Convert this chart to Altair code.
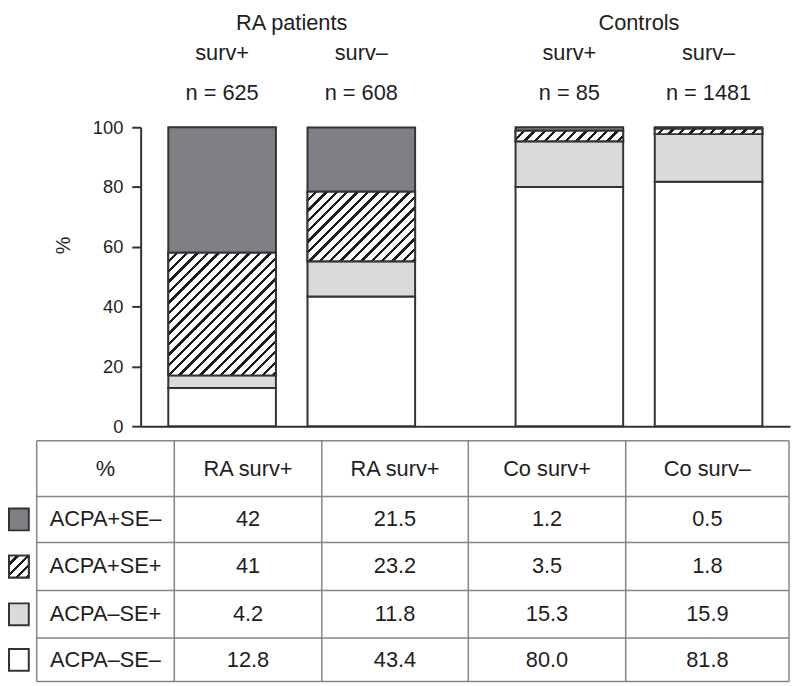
import altair as alt
import pandas as pd

# ---------------- data ----------------
GROUPS = ["RA patients", "Controls"]
SURV = ["surv+", "surv–"]
BAR_GROUP = ["RA patients", "RA patients", "Controls", "Controls"]
BAR_SURV = ["surv+", "surv–", "surv+", "surv–"]
BAR_N = ["n = 625", "n = 608", "n = 85", "n = 1481"]
# stacking order, bottom -> top
CATEGORIES = ["ACPA–SE–", "ACPA–SE+", "ACPA+SE+", "ACPA+SE–"]
ACPA_NEG_SE_NEG = [12.8, 43.4, 80.0, 81.8]
ACPA_NEG_SE_POS = [4.2, 11.8, 15.3, 15.9]
ACPA_POS_SE_POS = [41, 23.2, 3.5, 1.8]
ACPA_POS_SE_NEG = [42, 21.5, 1.2, 0.5]
TABLE_HEADERS = ["%", "RA surv+", "RA surv+", "Co surv+", "Co surv–"]
Y_TICKS = [0, 20, 40, 60, 80, 100]
Y_TITLE = "%"

VALUES = {
    CATEGORIES[0]: ACPA_NEG_SE_NEG,
    CATEGORIES[1]: ACPA_NEG_SE_POS,
    CATEGORIES[2]: ACPA_POS_SE_POS,
    CATEGORIES[3]: ACPA_POS_SE_NEG,
}
HATCHED = CATEGORIES[2]

# ---------------- style / layout ----------------
FONT = "Liberation Sans"
TXT = "#1e1e1e"
LINE = "#333333"
GRID = "#858585"
DARK = "#7f8084"
LIGHT = "#d9dadb"
FILLS = ["#ffffff", LIGHT, "#ffffff", DARK]
HATCH_COLOR = "#1a1a1a"
HATCH_PERIOD = 10.5
HATCH_INK = 0.32

OX, OY = 8, 8                      # page margin
W, H = 792, 678                    # whole drawing (autosize none, padding 0)
Y0_PX, Y100_PX = 427 - OY, 125 - OY
X_LEFT, X_RIGHT = 142 - OX, 798 - OX
PAD_INNER = 0.13
OFF_PAD_INNER, OFF_PAD_OUTER = 0.227, 0.1986
COL_EDGES = [e - OX for e in [37, 176, 325, 473, 632, 797]]
ROW_EDGES = [e - OY for e in [441.7, 498, 544.5, 593, 641, 685]]
SWATCH_X = (9 - OX, 29 - OX)
SWATCH_H = 22
HEAD_Y = [20 - OY, 50 - OY, 90 - OY]


def hatch(w, h):
    s = w * w + h * h
    x2 = w * (w + h) / s
    y2 = h * (w + h) / s
    n = (w + h) / HATCH_PERIOD
    stops = []
    k = 0
    while k < n:
        a = k / n
        b = min((k + 1 - HATCH_INK) / n, 1.0)
        c = min((k + 1) / n, 1.0)
        stops.append({"offset": round(a, 5), "color": "#ffffff"})
        stops.append({"offset": round(b, 5), "color": "#ffffff"})
        if b < 1.0:
            stops.append({"offset": round(b, 5), "color": HATCH_COLOR})
            stops.append({"offset": round(c, 5), "color": HATCH_COLOR})
        k += 1
    return {"gradient": "linear", "x1": 0, "y1": 0,
            "x2": round(x2, 5), "y2": round(y2, 5), "stops": stops}


# ---------------- tables ----------------
rows = []
for i in range(len(BAR_GROUP)):
    for k, cat in enumerate(CATEGORIES):
        rows.append(dict(group=BAR_GROUP[i], surv=BAR_SURV[i], bar=i,
                         cat=cat, order=k, value=VALUES[cat][i]))
bars_df = pd.DataFrame(rows)
heads_df = pd.DataFrame({"group": BAR_GROUP, "surv": BAR_SURV, "n": BAR_N})
groups_df = pd.DataFrame({"group": GROUPS})

x_scale = alt.Scale(domain=GROUPS, range=[X_LEFT, X_RIGHT],
                    paddingInner=PAD_INNER, paddingOuter=0)
xo_scale = alt.Scale(domain=SURV, paddingInner=OFF_PAD_INNER,
                     paddingOuter=OFF_PAD_OUTER)
y_scale = alt.Scale(domain=[0, 100], range=[Y0_PX, Y100_PX])
fill_scale = alt.Scale(domain=CATEGORIES, range=FILLS)

y_axis = alt.Axis(values=Y_TICKS, offset=-X_LEFT, title=Y_TITLE,
                  titleFont=FONT, titleFontSize=20, titleFontWeight="normal",
                  titleColor=TXT, titleAngle=270, titleBaseline="middle",
                  titleX=64 - 142, titleY=244 - OY,
                  labelFont=FONT, labelFontSize=18.5, labelColor=TXT,
                  labelPadding=9, tickSize=9, tickWidth=2, tickColor=LINE,
                  domainColor=LINE, domainWidth=2, grid=False)
x_axis = alt.Axis(labels=False, ticks=False, title=None, domainColor=LINE,
                  domainWidth=2, offset=-(H - Y0_PX), grid=False)

stacked = alt.Chart(bars_df).transform_stack(
    stack="value", groupby=["bar"], as_=["y0", "y1"],
    sort=[alt.SortField("order", order="ascending")])

bar_layer = stacked.mark_bar(stroke=LINE, strokeWidth=2).encode(
    x=alt.X("group:N", scale=x_scale, axis=x_axis),
    xOffset=alt.XOffset("surv:N", scale=xo_scale),
    y=alt.Y("y0:Q", scale=y_scale, axis=y_axis),
    y2="y1:Q",
    fill=alt.Fill("cat:N", scale=fill_scale, legend=None),
)

# bar geometry (for hatch spacing only)
step = (X_RIGHT - X_LEFT) / (2 - PAD_INNER)
bw = step * (1 - PAD_INNER)
step_o = bw / (2 - OFF_PAD_INNER + 2 * OFF_PAD_OUTER)
bar_w = step_o * (1 - OFF_PAD_INNER)
px_per_unit = (Y0_PX - Y100_PX) / 100.0

hatch_layers = []
for i in range(len(BAR_GROUP)):
    h = VALUES[HATCHED][i] * px_per_unit
    hatch_layers.append(
        stacked.transform_filter(
            (alt.datum.bar == i) & (alt.datum.cat == HATCHED)
        ).mark_bar(fill=hatch(bar_w, h), stroke=LINE, strokeWidth=2).encode(
            x=alt.X("group:N", scale=x_scale, axis=x_axis),
            xOffset=alt.XOffset("surv:N", scale=xo_scale),
            y=alt.Y("y0:Q", scale=y_scale, axis=y_axis),
            y2="y1:Q",
        )
    )

text_kw = dict(font=FONT, fontSize=22, color=TXT, baseline="middle", align="center")
head_groups = alt.Chart(groups_df).mark_text(**text_kw).encode(
    x=alt.X("group:N", scale=x_scale, axis=x_axis),
    y=alt.value(HEAD_Y[0]), text="group:N")
head_surv = alt.Chart(heads_df).mark_text(**text_kw).encode(
    x=alt.X("group:N", scale=x_scale, axis=x_axis),
    xOffset=alt.XOffset("surv:N", scale=xo_scale),
    y=alt.value(HEAD_Y[1]), text="surv:N")
head_n = alt.Chart(heads_df).mark_text(**text_kw).encode(
    x=alt.X("group:N", scale=x_scale, axis=x_axis),
    xOffset=alt.XOffset("surv:N", scale=xo_scale),
    y=alt.value(HEAD_Y[2]), text="n:N")

# ---------------- table below ----------------
lines = []
for yv in ROW_EDGES:
    lines.append(dict(lx=COL_EDGES[0], lx2=COL_EDGES[-1], ly=yv, ly2=yv))
for xv in COL_EDGES:
    lines.append(dict(lx=xv, lx2=xv, ly=ROW_EDGES[0], ly2=ROW_EDGES[-1]))
rule_layer = alt.Chart(pd.DataFrame(lines)).mark_rule(
    color=GRID, strokeWidth=1.5).encode(
    x=alt.X("lx:Q", scale=None), x2="lx2:Q",
    y=alt.Y("ly:Q", scale=None), y2="ly2:Q")

cells = []
col_c = [(COL_EDGES[c] + COL_EDGES[c + 1]) / 2 for c in range(5)]
row_c = [(ROW_EDGES[r] + ROW_EDGES[r + 1]) / 2 for r in range(5)]
for c, lab in enumerate(TABLE_HEADERS):
    cells.append(dict(tx=col_c[c], ty=row_c[0], label=lab))
table_cats = list(reversed(CATEGORIES))
for r, cat in enumerate(table_cats):
    cells.append(dict(tx=col_c[0], ty=row_c[r + 1], label=cat))
    for j, v in enumerate(VALUES[cat]):
        cells.append(dict(tx=col_c[j + 1], ty=row_c[r + 1], label=str(v)))
text_layer = alt.Chart(pd.DataFrame(cells)).mark_text(
    font=FONT, fontSize=22, color=TXT, baseline="middle", align="center").encode(
    x=alt.X("tx:Q", scale=None), y=alt.Y("ty:Q", scale=None), text="label:N")

sw = pd.DataFrame([dict(cat=cat, sx=SWATCH_X[0], sx2=SWATCH_X[1],
                        sy=row_c[r + 1] - SWATCH_H / 2,
                        sy2=row_c[r + 1] + SWATCH_H / 2)
                   for r, cat in enumerate(table_cats)])
swatch_layer = alt.Chart(sw).mark_rect(stroke=LINE, strokeWidth=2).encode(
    x=alt.X("sx:Q", scale=None), x2="sx2:Q",
    y=alt.Y("sy:Q", scale=None), y2="sy2:Q",
    fill=alt.Fill("cat:N", scale=fill_scale, legend=None))
swatch_hatch = alt.Chart(sw).transform_filter(alt.datum.cat == HATCHED).mark_rect(
    fill=hatch(SWATCH_X[1] - SWATCH_X[0], SWATCH_H), stroke=LINE, strokeWidth=2).encode(
    x=alt.X("sx:Q", scale=None), x2="sx2:Q",
    y=alt.Y("sy:Q", scale=None), y2="sy2:Q")

chart = alt.layer(
    bar_layer, *hatch_layers, head_groups, head_surv, head_n,
    rule_layer, swatch_layer, swatch_hatch, text_layer,
).properties(
    width=W, height=H, padding=0,
    autosize=alt.AutoSizeParams(type="none"),
).configure_view(strokeWidth=0)

chart.save("out.html", embed_options={"renderer": "svg", "actions": False})
